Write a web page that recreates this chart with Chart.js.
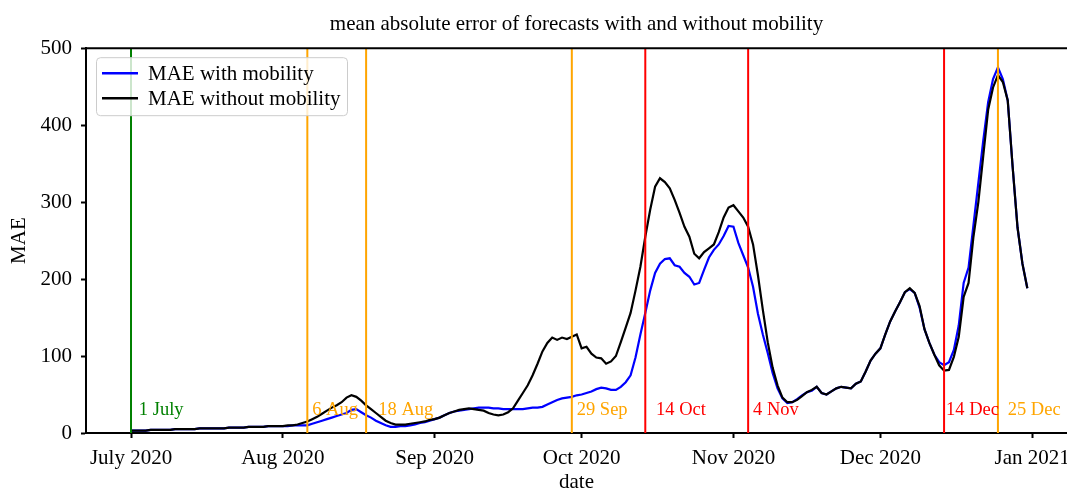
<!doctype html>
<html lang="en">
<head>
    <meta charset="utf-8">
    <title>mean absolute error of forecasts with and without mobility</title>
    <script src="https://cdn.jsdelivr.net/npm/chart.js"></script>
    <style>
        body { margin: 0; background: #fff; }
        #mae-chart { display: block; }
    </style>
</head>
<body>
    <canvas id="mae-chart" width="1067" height="491"></canvas>

    <script>
        // days since 1 July 2020, one value per day
        const maeWithMobility = [
            3, 3, 3, 3, 4, 4, 4, 4, 4, 5, 5, 5, 5, 5, 6, 6, 6, 6, 6, 6, 7, 7, 7, 7, 8, 8, 8, 8, 9, 9, 9,
            9, 9, 10, 10, 10, 10, 12, 14, 16, 18, 20, 22, 24, 26, 30, 31, 27, 23, 20, 16, 13, 10, 8, 8, 9, 9, 10, 11, 13, 14, 16,
            18, 20, 23, 26, 28, 29, 30, 31, 32, 33, 33, 33, 32, 32, 31, 31, 31, 31, 31, 32, 33, 33, 34, 37, 40, 43, 45, 46, 47, 49,
            50, 52, 54, 57, 59, 58, 56, 56, 60, 66, 75, 98, 128, 156, 185, 208, 220, 226, 227, 218, 216, 208, 203, 193, 195, 212, 228, 238, 245, 256, 269,
            268, 247, 231, 215, 190, 155, 128, 104, 78, 58, 45, 39, 40, 44, 49, 53, 55, 60, 52, 50, 54, 58, 60, 59, 58, 64, 67, 80, 94, 103,
            110, 128, 145, 158, 170, 183, 187, 182, 163, 135, 117, 102, 92, 88, 92, 108, 140, 195, 215, 270, 325, 380, 430, 460, 475, 460, 432, 346, 267, 220, 188
        ];
        const maeWithoutMobility = [
            3, 3, 3, 3, 4, 4, 4, 4, 4, 5, 5, 5, 5, 5, 6, 6, 6, 6, 6, 6, 7, 7, 7, 7, 8, 8, 8, 8, 9, 9, 9,
            9, 10, 10, 11, 13, 15, 18, 21, 25, 29, 33, 36, 40, 46, 49, 47, 42, 36, 31, 26, 21, 16, 13, 11, 11, 11, 12, 13, 14, 15, 17,
            18, 20, 23, 26, 28, 30, 31, 32, 31, 30, 29, 26, 24, 23, 24, 27, 32, 42, 52, 62, 75, 90, 106, 117, 124, 121, 124, 122, 125, 128,
            110, 112, 103, 98, 97, 90, 93, 100, 118, 137, 156, 185, 216, 255, 290, 320, 331, 326, 318, 303, 286, 268, 255, 233, 227, 235, 240, 245, 261, 280, 293,
            296, 288, 280, 268, 245, 205, 160, 118, 85, 62, 46, 40, 40, 43, 48, 53, 56, 60, 52, 50, 54, 58, 60, 59, 58, 64, 67, 80, 94, 103,
            110, 128, 145, 158, 170, 183, 188, 182, 165, 135, 117, 102, 88, 81, 82, 99, 125, 177, 195, 255, 300, 360, 420, 449, 465, 456, 432, 346, 267, 220, 188
        ];

        const tickDays = [0, 31, 62, 92, 123, 153, 184];
        const tickLabels = ['July 2020', 'Aug 2020', 'Sep 2020', 'Oct 2020', 'Nov 2020', 'Dec 2020', 'Jan 2021'];

        const eventDays = [0, 36, 48, 90, 105, 126, 166, 177];
        const eventLabels = ['1 July', '6 Aug', '18 Aug', '29 Sep', '14 Oct', '4 Nov', '14 Dec', '25 Dec'];
        const eventLabelDays = [1.6, 37, 50.5, 91, 107.2, 127, 166.4, 179];
        const eventColors = ['#008000', '#ffa500', '#ffa500', '#ffa500', '#ff0000', '#ff0000', '#ff0000', '#ffa500'];

        const serif = "'Liberation Serif', 'DejaVu Serif', serif";

        function toPoints(values) {
            return values.map((v, i) => ({ x: i, y: v }));
        }

        const eventDatasets = eventDays.map((d, i) => ({
            label: eventLabels[i],
            isEvent: true,
            data: [{ x: d, y: 0 }, { x: d, y: 500 }],
            borderColor: eventColors[i],
            borderWidth: 2,
            pointRadius: 0,
            order: 0
        }));

        // event labels + top spine + legend box
        const decorations = {
            id: 'decorations',
            afterDatasetsDraw(chart) {
                const ctx = chart.ctx;
                const xs = chart.scales.x, ys = chart.scales.y;
                const area = chart.chartArea;
                ctx.save();
                ctx.font = '18.5px ' + serif;
                ctx.textBaseline = 'alphabetic';
                ctx.textAlign = 'left';
                eventLabelDays.forEach((d, i) => {
                    ctx.fillStyle = eventColors[i];
                    ctx.fillText(eventLabels[i], xs.getPixelForValue(d), ys.getPixelForValue(24));
                });
                ctx.strokeStyle = '#000';
                ctx.lineWidth = 2;
                ctx.beginPath();
                ctx.moveTo(area.left, area.top);
                ctx.lineTo(area.right, area.top);
                ctx.stroke();
                ctx.restore();
            },
            afterDraw(chart) {
                const ctx = chart.ctx;
                const area = chart.chartArea;
                const items = chart.data.datasets.filter(ds => !ds.isEvent);
                const bx = area.left + 10, by = area.top + 9, bw = 251, bh = 58;
                ctx.save();
                ctx.fillStyle = 'rgba(255,255,255,0.8)';
                ctx.strokeStyle = '#cccccc';
                ctx.lineWidth = 1;
                ctx.beginPath();
                ctx.roundRect(bx + 0.5, by + 0.5, bw, bh, 4);
                ctx.fill();
                ctx.stroke();
                ctx.font = '21px ' + serif;
                ctx.textBaseline = 'middle';
                items.forEach((ds, i) => {
                    const y = by + 16 + i * 25;
                    ctx.strokeStyle = ds.borderColor;
                    ctx.lineWidth = 2.5;
                    ctx.beginPath();
                    ctx.moveTo(bx + 6, y);
                    ctx.lineTo(bx + 42, y);
                    ctx.stroke();
                    ctx.fillStyle = '#000';
                    ctx.fillText(ds.label, bx + 52, y + 1);
                });
                ctx.restore();
            }
        };

        new Chart(document.getElementById('mae-chart'), {
            type: 'line',
            data: {
                datasets: [
                    ...eventDatasets,
                    {
                        label: 'MAE with mobility',
                        data: toPoints(maeWithMobility),
                        borderColor: '#0000ff',
                        borderWidth: 2.2,
                        pointRadius: 0,
                        tension: 0,
                        order: 2
                    },
                    {
                        label: 'MAE without mobility',
                        data: toPoints(maeWithoutMobility),
                        borderColor: '#000000',
                        borderWidth: 2.2,
                        pointRadius: 0,
                        tension: 0,
                        order: 1
                    }
                ]
            },
            options: {
                responsive: false,
                animation: false,
                layout: { padding: 0 },
                plugins: {
                    legend: { display: false },
                    tooltip: { enabled: false },
                    title: {
                        display: true,
                        fullSize: false,
                        text: 'mean absolute error of forecasts with and without mobility',
                        color: '#000',
                        font: { family: serif, size: 21, weight: 'normal' },
                        padding: { top: 12, bottom: 11 }
                    }
                },
                scales: {
                    x: {
                        type: 'linear',
                        min: -9.19,
                        max: 191.1,
                        afterBuildTicks: scale => {
                            scale.ticks = tickDays.map(v => ({ value: v }));
                        },
                        afterFit: scale => {
                            scale.height = 58;
                            scale.paddingLeft = 0;
                            scale.paddingRight = 0;
                        },
                        ticks: {
                            autoSkip: false,
                            maxRotation: 0,
                            color: '#000',
                            padding: 8,
                            font: { family: serif, size: 21 },
                            callback: v => tickLabels[tickDays.indexOf(v)]
                        },
                        grid: { drawOnChartArea: false, drawTicks: true, tickLength: 5, tickWidth: 2, color: '#000' },
                        border: { display: true, color: '#000', width: 2 },
                        title: {
                            display: true,
                            text: 'date',
                            color: '#000',
                            font: { family: serif, size: 21 },
                            padding: { top: 0, bottom: -4 }
                        }
                    },
                    y: {
                        min: 0,
                        max: 500,
                        afterFit: scale => {
                            scale.width = 86;
                            scale.paddingTop = 0;
                            scale.paddingBottom = 0;
                        },
                        ticks: {
                            stepSize: 100,
                            color: '#000',
                            padding: 9,
                            font: { family: serif, size: 21 }
                        },
                        grid: { drawOnChartArea: false, drawTicks: true, tickLength: 5, tickWidth: 2, color: '#000' },
                        border: { display: true, color: '#000', width: 2 },
                        title: {
                            display: true,
                            text: 'MAE',
                            color: '#000',
                            font: { family: serif, size: 21 },
                            padding: { top: 7 }
                        }
                    }
                }
            },
            plugins: [decorations]
        });
    </script>
</body>
</html>
